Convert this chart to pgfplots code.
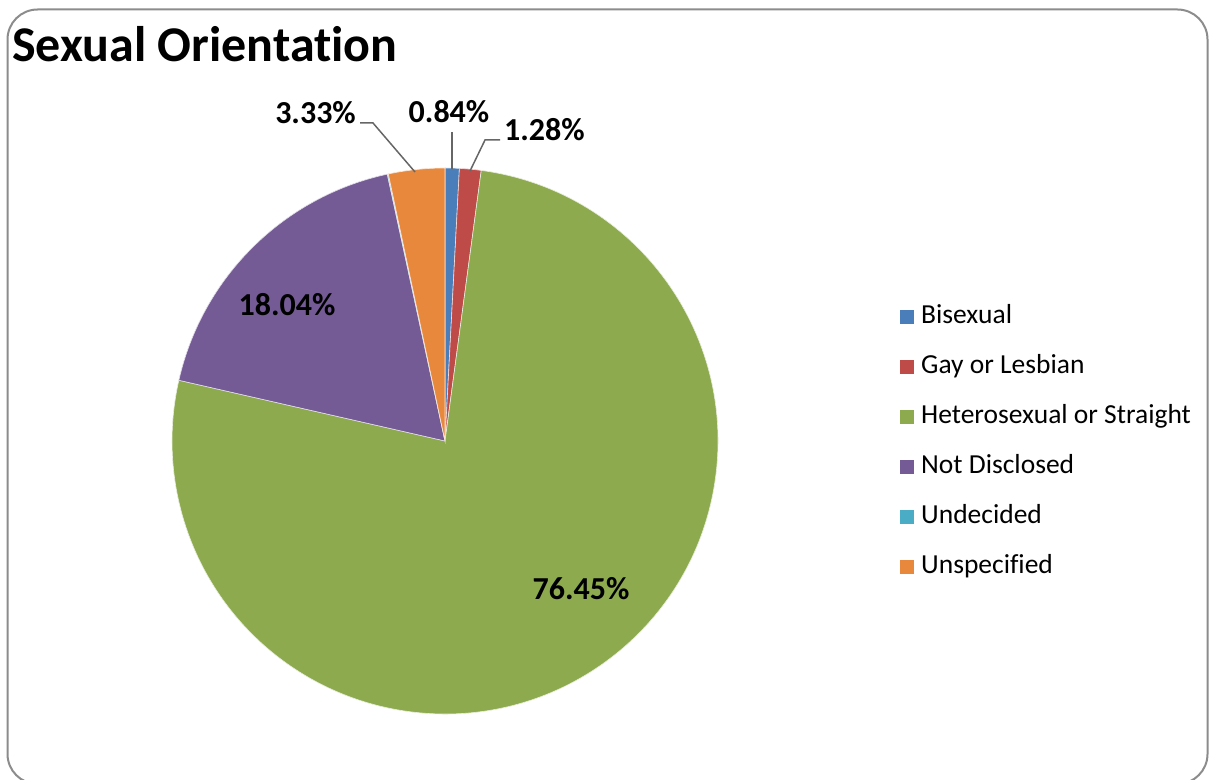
\documentclass[border=0pt]{standalone}
\usepackage{fontspec}
\setmainfont{Carlito}[RawFeature={-liga;-clig;-dlig;-calt}]
\usepackage{pgfplots}
\pgfplotsset{compat=1.18}

\definecolor{cBi}{HTML}{4A7EBB}
\definecolor{cGay}{HTML}{BE4B48}
\definecolor{cHet}{HTML}{8DAA4F}
\definecolor{cNot}{HTML}{745B95}
\definecolor{cUnd}{HTML}{4BACC6}
\definecolor{cUns}{HTML}{E8883D}
\definecolor{frame}{HTML}{8C8C8C}

\begin{document}
\begin{tikzpicture}
\begin{axis}[
    scale only axis,
    width=1209bp, height=780bp,
    xmin=0, xmax=1209, ymin=0, ymax=780,
    hide axis,
    clip=false,
    legend image code/.code={\fill[#1, draw=none] (0bp,-7bp) rectangle (14bp,7bp);},
    legend style={
        draw=none, fill=none,
        at={(axis cs:897,780-302)}, anchor=north west,
        font=\fontsize{27.5bp}{33bp}\selectfont,
        cells={anchor=west},
        nodes={inner sep=0pt, text height=19bp, text depth=6bp},
        row sep=25bp, column sep=7bp,
    },
]
% frame
\draw[frame, line width=2bp, rounded corners=30bp]
    (axis cs:7.5,-4) rectangle (axis cs:1207.5,780-9.5);

% pie slices, clockwise from the top (values in percent)
\gdef\pieang{90}
\foreach \v/\c in {0.84/cBi, 1.28/cGay, 76.45/cHet, 18.04/cNot, 0.06/cUnd, 3.33/cUns}{
    \pgfmathsetmacro\endang{\pieang-3.6*\v}
    \edef\temp{\noexpand\fill[\c, draw=white!80!\c, line width=0.6bp]
        (axis cs:445,339) -- ++(\pieang:273bp)
        arc[start angle=\pieang, end angle=\endang, radius=273bp] -- cycle;}
    \temp
    \xdef\pieang{\endang}
}

% leader lines
\draw[black!60, line width=1.5bp] (axis cs:360,780-123) -- (axis cs:373,780-123) -- (axis cs:415,780-172);
\draw[black!60, line width=1.5bp] (axis cs:452,780-132) -- (axis cs:452,780-169);
\draw[black!60, line width=1.5bp] (axis cs:470,780-171) -- (axis cs:485,780-140) -- (axis cs:500,780-140);

% data labels
\begin{scope}[font=\fontsize{32bp}{38bp}\selectfont\bfseries, inner sep=0pt]
\node[anchor=base] at (axis cs:287,780-316) {18.04\%};
\node[anchor=base] at (axis cs:581,780-599) {76.45\%};
\node[anchor=base east] at (axis cs:356,780-124) {3.33\%};
\node[anchor=base] at (axis cs:449,780-123) {0.84\%};
\node[anchor=base west] at (axis cs:504,780-141) {1.28\%};
\end{scope}

% title
\node[anchor=base west, inner sep=0pt, font=\fontsize{50bp}{60bp}\selectfont\bfseries]
    at (axis cs:12,780-62) {Sexual Orientation};

\addlegendimage{fill=cBi}
\addlegendentry{Bisexual}
\addlegendimage{fill=cGay}
\addlegendentry{Gay or Lesbian}
\addlegendimage{fill=cHet}
\addlegendentry{Heterosexual or Straight}
\addlegendimage{fill=cNot}
\addlegendentry{Not Disclosed}
\addlegendimage{fill=cUnd}
\addlegendentry{Undecided}
\addlegendimage{fill=cUns}
\addlegendentry{Unspecified}
\end{axis}
\pgfresetboundingbox
\useasboundingbox (0,0) rectangle (1209bp,780bp);
\end{tikzpicture}
\end{document}
